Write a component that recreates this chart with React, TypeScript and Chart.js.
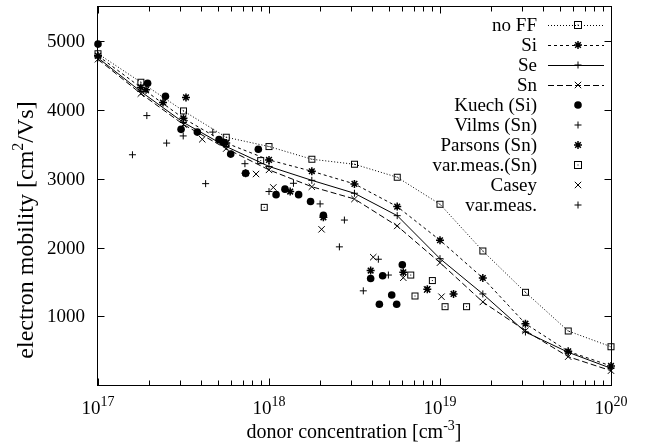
import { useEffect, useRef } from "react";
import { Chart, registerables } from "chart.js";

Chart.register(...registerables);

const FONT = '"Liberation Serif", "Times New Roman", serif';

// model curves, evaluated at quarter-decade concentrations
const curveConc = [1e17, 1.78e17, 3.16e17, 5.62e17, 1e18, 1.78e18, 3.16e18, 5.62e18, 1e19, 1.78e19, 3.16e19, 5.62e19, 1e20];
const noFF = [4820, 4406, 3988, 3605, 3470, 3285, 3212, 3023, 2630, 1950, 1349, 786, 557];
const siCurve = [4790, 4330, 3880, 3520, 3275, 3110, 2926, 2596, 2106, 1557, 892, 490, 277];
const seCurve = [4760, 4270, 3820, 3470, 3180, 2978, 2790, 2464, 1838, 1325, 771, 476, 243];
const snCurve = [4740, 4240, 3790, 3440, 3130, 2885, 2707, 2314, 1780, 1208, 790, 412, 208];

// measurements [concentration, mobility]
const kuech: [number, number][] = [
  [1e17, 4960], [1.95e17, 4390], [2.48e17, 4200], [3.06e17, 3720], [3.81e17, 3680],
  [5.1e17, 3570], [5.4e17, 3530], [5.97e17, 3360], [8.66e17, 3430], [7.3e17, 3080],
  [1.1e18, 2770], [1.24e18, 2850], [1.49e18, 2770], [1.75e18, 2670], [2.08e18, 2470],
  [6.02e18, 1750], [3.93e18, 1550], [4.62e18, 1590], [5.22e18, 1310], [4.42e18, 1175], [5.58e18, 1175],
];
const vilms: [number, number][] = [
  [1.59e17, 3350], [1.93e17, 3920], [2.52e17, 3520], [4.26e17, 2930], [2.58e18, 2010], [3.56e18, 1370],
];
const parsons: [number, number][] = [
  [1.91e17, 4295], [2.4e17, 4110], [3.27e17, 4185], [7.3e17, 3080], [1.33e18, 2815],
  [2.08e18, 2440], [3.93e18, 1665], [6.1e18, 1640], [8.43e18, 1395], [1.2e19, 1325],
];
const varMeasSn: [number, number][] = [
  [8.94e17, 3265], [9.38e17, 2585], [6.74e18, 1600], [9.02e18, 1520], [7.14e18, 1295],
  [1.07e19, 1140], [1.43e19, 1140],
];
const casey: [number, number][] = [
  [4.07e17, 3575], [8.4e17, 3070], [1.06e18, 2875], [2.03e18, 2265], [4.07e18, 1860],
  [6.1e18, 1560], [8.4e18, 1385], [1.02e19, 1285],
];
const varMeas: [number, number][] = [
  [3.15e17, 3624], [4.69e17, 3680], [7.23e17, 3220], [1e18, 2815], [1.39e18, 2935],
  [1.99e18, 2635], [2.76e18, 2400], [4.36e18, 1830], [4.99e18, 1600],
];

const xDecades = [17, 18, 19, 20];
const yTickValues = [1000, 2000, 3000, 4000, 5000];

type Kind = "box" | "star" | "plus" | "cross" | "dot";

function boxCanvas(): HTMLCanvasElement {
  const c = document.createElement("canvas");
  c.width = 9;
  c.height = 9;
  const g = c.getContext("2d")!;
  g.strokeStyle = "#000";
  g.lineWidth = 1;
  g.strokeRect(1.5, 1.5, 6, 6);
  g.fillStyle = "#000";
  g.fillRect(4, 4, 1, 1);
  return c;
}

function drawMarker(ctx: CanvasRenderingContext2D, kind: Kind, x: number, y: number) {
  ctx.save();
  ctx.strokeStyle = "#000";
  ctx.fillStyle = "#000";
  ctx.setLineDash([]);
  ctx.beginPath();
  if (kind === "box") {
    ctx.lineWidth = 1;
    ctx.strokeRect(Math.round(x) - 3.5, Math.round(y) - 3.5, 7, 7);
    ctx.fillRect(Math.round(x) - 0.5, Math.round(y) - 0.5, 1, 1);
  } else if (kind === "star") {
    ctx.lineWidth = 1.5;
    const r = 4, d = 2.83;
    ctx.moveTo(x - r, y); ctx.lineTo(x + r, y);
    ctx.moveTo(x, y - r); ctx.lineTo(x, y + r);
    ctx.moveTo(x - d, y - d); ctx.lineTo(x + d, y + d);
    ctx.moveTo(x - d, y + d); ctx.lineTo(x + d, y - d);
    ctx.stroke();
  } else if (kind === "plus") {
    ctx.lineWidth = 1;
    ctx.moveTo(x - 3.5, y); ctx.lineTo(x + 3.5, y);
    ctx.moveTo(x, y - 3.5); ctx.lineTo(x, y + 3.5);
    ctx.stroke();
  } else if (kind === "cross") {
    ctx.lineWidth = 1;
    ctx.moveTo(x - 3.2, y - 3.2); ctx.lineTo(x + 3.2, y + 3.2);
    ctx.moveTo(x - 3.2, y + 3.2); ctx.lineTo(x + 3.2, y - 3.2);
    ctx.stroke();
  } else {
    ctx.arc(x, y, 3.8, 0, Math.PI * 2);
    ctx.fill();
  }
  ctx.restore();
}

type Seg = { t: string; sup?: boolean };

function drawSup(
  ctx: CanvasRenderingContext2D, segs: Seg[], x: number, y: number,
  align: "left" | "center" | "right", size: number, supSize: number, rise: number
) {
  const base = `${size}px ${FONT}`;
  const small = `${supSize}px ${FONT}`;
  let w = 0;
  const widths = segs.map((s) => {
    ctx.font = s.sup ? small : base;
    const m = ctx.measureText(s.t).width;
    w += m;
    return m;
  });
  let cx = align === "left" ? x : align === "center" ? x - w / 2 : x - w;
  ctx.textAlign = "left";
  ctx.textBaseline = "alphabetic";
  segs.forEach((s, i) => {
    ctx.font = s.sup ? small : base;
    ctx.fillText(s.t, cx, s.sup ? y - rise : y);
    cx += widths[i];
  });
}

const legendInfo: { kind: Kind; dash: number[] | null }[] = [
  { kind: "box", dash: [1, 2] },
  { kind: "star", dash: [3, 3] },
  { kind: "plus", dash: [] },
  { kind: "cross", dash: [6, 3] },
  { kind: "dot", dash: null },
  { kind: "plus", dash: null },
  { kind: "star", dash: null },
  { kind: "box", dash: null },
  { kind: "cross", dash: null },
  { kind: "plus", dash: null },
];

const framePlugin = {
  id: "gnuplotFrame",
  afterDraw(chart: any) {
    const ctx: CanvasRenderingContext2D = chart.ctx;
    const { left, right, top, bottom } = chart.chartArea;
    const xs = chart.scales.x;
    const ys = chart.scales.y;
    ctx.save();
    ctx.strokeStyle = "#000";
    ctx.fillStyle = "#000";
    ctx.lineWidth = 1;
    ctx.setLineDash([]);
    const L = Math.round(left) - 0.5, R = Math.round(right) + 0.5;
    const T = Math.round(top) - 0.5, B = Math.round(bottom) + 0.5;
    ctx.strokeRect(L, T, R - L, B - T);

    // x ticks (major + minor), inside on bottom and top
    ctx.beginPath();
    for (let d = 17; d <= 20; d++) {
      for (let m = 1; m <= 9; m++) {
        if (d === 20 && m > 1) break;
        const v = m * Math.pow(10, d);
        const px = Math.round(xs.getPixelForValue(v)) + 0.5;
        const len = m === 1 ? 7 : 5;
        ctx.moveTo(px, B); ctx.lineTo(px, B - len);
        ctx.moveTo(px, T); ctx.lineTo(px, T + len);
      }
    }
    // y ticks
    yTickValues.forEach((v) => {
      const py = Math.round(ys.getPixelForValue(v)) + 0.5;
      ctx.moveTo(L, py); ctx.lineTo(L + 7, py);
      ctx.moveTo(R, py); ctx.lineTo(R - 7, py);
    });
    ctx.stroke();

    // y tick labels
    ctx.font = `19px ${FONT}`;
    ctx.textAlign = "right";
    ctx.textBaseline = "middle";
    yTickValues.forEach((v) => {
      ctx.fillText(String(v), 85, ys.getPixelForValue(v) + 1);
    });

    // x tick labels
    xDecades.forEach((d) => {
      const px = xs.getPixelForValue(Math.pow(10, d));
      drawSup(ctx, [{ t: "10" }, { t: String(d), sup: true }], px, 414, "center", 19, 14, 8);
    });

    // axis titles
    drawSup(ctx, [{ t: "donor concentration [cm" }, { t: "-3", sup: true }, { t: "]" }], 354, 438, "center", 20, 14, 8);
    ctx.save();
    ctx.translate(33, 230);
    ctx.rotate(-Math.PI / 2);
    drawSup(ctx, [{ t: "electron mobility [cm" }, { t: "2", sup: true }, { t: "/Vs]" }], 0, 0, "center", 24, 16, 10);
    ctx.restore();

    // legend
    chart.data.datasets.forEach((ds: any, i: number) => {
      const y = 25 + 20 * i;
      const info = legendInfo[i];
      ctx.font = `19px ${FONT}`;
      ctx.textAlign = "right";
      ctx.textBaseline = "middle";
      ctx.fillStyle = "#000";
      ctx.fillText(ds.label, 537, y + 1);
      if (info.dash) {
        ctx.save();
        ctx.beginPath();
        ctx.setLineDash(info.dash);
        ctx.lineWidth = 1;
        ctx.moveTo(548, y + 0.5);
        ctx.lineTo(604, y + 0.5);
        ctx.stroke();
        ctx.restore();
      }
      drawMarker(ctx, info.kind, 578, y);
    });
    ctx.restore();
  },
};

function toPts(xsArr: number[], ysArr: number[]) {
  return xsArr.map((x, i) => ({ x, y: ysArr[i] }));
}
function pairPts(arr: [number, number][]) {
  return arr.map(([x, y]) => ({ x, y }));
}

export default function App() {
  const ref = useRef<HTMLCanvasElement | null>(null);

  useEffect(() => {
    if (!ref.current) return;
    const box = boxCanvas();
    const curve = (label: string, ys: number[], dash: number[], style: any, radius: number, pbw: number) => ({
      label,
      data: toPts(curveConc, ys),
      showLine: true,
      borderColor: "#000",
      backgroundColor: "#000",
      borderWidth: 1,
      borderDash: dash,
      pointStyle: style,
      pointRadius: radius,
      pointBorderWidth: pbw,
      pointBorderColor: "#000",
      pointBackgroundColor: "#000",
      clip: false,
    });
    const scatter = (label: string, pts: [number, number][], style: any, radius: number, pbw: number) => ({
      label,
      data: pairPts(pts),
      showLine: false,
      borderColor: "#000",
      backgroundColor: "#000",
      pointStyle: style,
      pointRadius: radius,
      pointBorderWidth: pbw,
      pointBorderColor: "#000",
      pointBackgroundColor: "#000",
      clip: false,
    });

    const chart = new Chart(ref.current, {
      type: "scatter",
      data: {
        datasets: [
          curve("no FF", noFF, [1, 2], box, 4, 1),
          curve("Si", siCurve, [3, 3], "star", 4, 1.5),
          curve("Se", seCurve, [], "cross", 3.5, 1),
          curve("Sn", snCurve, [6, 3], "crossRot", 4.5, 1),
          scatter("Kuech (Si)", kuech, "circle", 3.8, 0),
          scatter("Vilms (Sn)", vilms, "cross", 3.5, 1),
          scatter("Parsons (Sn)", parsons, "star", 4, 1.5),
          scatter("var.meas.(Sn)", varMeasSn, box, 4, 1),
          scatter("Casey", casey, "crossRot", 4.5, 1),
          scatter("var.meas.", varMeas, "cross", 3.5, 1),
        ] as any,
      },
      options: {
        animation: false,
        responsive: false,
        maintainAspectRatio: false,
        events: [],
        layout: { padding: { left: 0, right: 38, top: 7, bottom: 0 } },
        plugins: { legend: { display: false }, tooltip: { enabled: false } },
        scales: {
          x: {
            type: "logarithmic",
            min: 1e17,
            max: 1e20,
            ticks: { display: false },
            grid: { display: false },
            border: { display: false },
            afterFit: (s: any) => { s.height = 62; },
          },
          y: {
            type: "linear",
            min: 0,
            max: 5500,
            ticks: { display: false },
            grid: { display: false },
            border: { display: false },
            afterFit: (s: any) => { s.width = 98; },
          },
        },
      } as any,
      plugins: [framePlugin],
    });
    return () => chart.destroy();
  }, []);

  return (
    <div style={{ position: "absolute", left: 0, top: 0, width: 649, height: 447, background: "#fff" }}>
      <canvas ref={ref} width={649} height={447} style={{ display: "block", width: 649, height: 447 }} />
    </div>
  );
}
